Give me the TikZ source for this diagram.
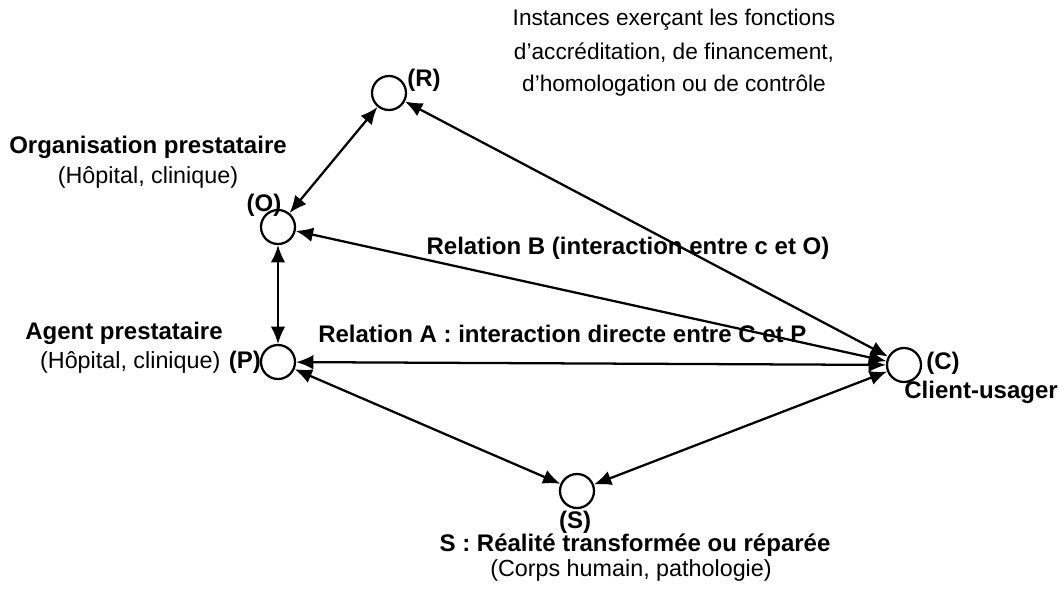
\documentclass[tikz,border=0pt]{standalone}
\usepackage{fontspec}
\setmainfont{Liberation Sans}
\usetikzlibrary{arrows.meta}
\begin{document}
\begin{tikzpicture}[x=0.75pt,y=-0.75pt,
  state/.style={circle,draw,line width=1.7pt,minimum size=25.5pt,inner sep=0pt},
  rel/.style={{Latex[length=13pt,width=11pt]}-{Latex[length=13pt,width=11pt]},line width=1.7pt},
  lbl/.style={font=\fontsize{17.5}{20}\selectfont,inner sep=0pt},
  ilbl/.style={font=\fontsize{17}{20}\selectfont,inner sep=0pt},
  blbl/.style={font=\fontsize{18}{20}\selectfont\bfseries,inner sep=0pt}]
\useasboundingbox (0,0) rectangle (1059,594);
% states
\node[state] (R) at (389,93) {};
\node[state] (O) at (278,227) {};
\node[state] (P) at (278,362) {};
\node[state] (C) at (904,365) {};
\node[state] (S) at (577,491) {};
% connectors
\draw[rel] (O) -- (R);
\draw[rel] (R) -- (C);
\draw[rel] (O) -- (C);
\draw[rel] (O) -- (P);
\draw[rel] (P) -- (C);
\draw[rel] (P) -- (S);
\draw[rel] (S) -- (C);
% labels
\node[ilbl] (inst1) at (674,20) {Instances exerçant les fonctions};
\node[ilbl] (inst2) at (674,53) {d’accréditation, de financement,};
\node[ilbl] (inst3) at (674,86) {d’homologation ou de contrôle};
\node[blbl] (Rlab) at (424,80) {(R)};
\node[blbl] (org1) at (148,147) {Organisation prestataire};
\node[lbl] (org2) at (148,177) {(Hôpital, clinique)};
\node[blbl] (Olab) at (264,205) {(O)};
\node[blbl] (relB) at (628,248) {Relation B (interaction entre c et O)};
\node[blbl,anchor=west] (relA) at (318,334) {Relation A : interaction directe entre C et P};
\node[blbl] (agent1) at (124,333) {Agent prestataire};
\node[blbl,anchor=east] (Plab) at ([xshift=1pt]P.west) {(P)};
\node[lbl,anchor=east] (agent2) at ([xshift=-6pt]Plab.west) {(Hôpital, clinique)};
\node[blbl,anchor=west] (Clab) at ([xshift=3pt,yshift=1pt]C.east) {(C)};
\node[blbl,anchor=east] (client) at (1058,392) {Client-usager};
\node[blbl] (Slab) at (575,522) {(S)};
\node[blbl] (s1) at (635,545) {S : Réalité transformée ou réparée};
\node[lbl] (s2) at (631,570) {(Corps humain, pathologie)};
\end{tikzpicture}
\end{document}
